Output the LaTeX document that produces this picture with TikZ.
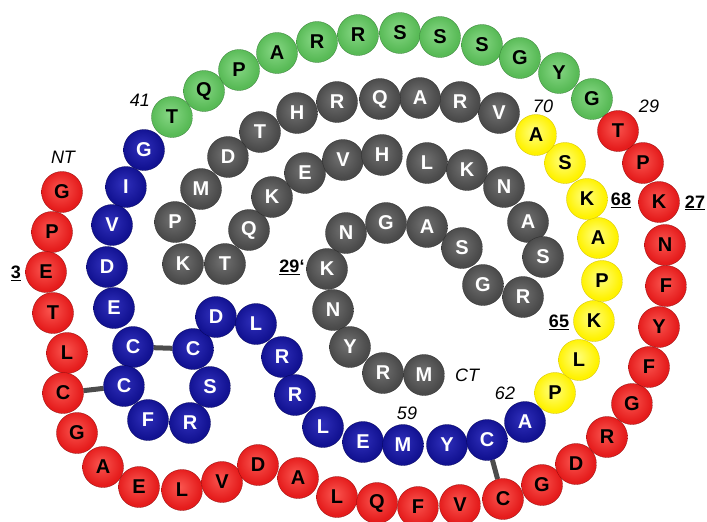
\documentclass[tikz,border=0pt]{standalone}
\usepackage{fontspec}
\setmainfont{Liberation Sans}
\definecolor{rIn}{HTML}{FA5650}\definecolor{rMid}{HTML}{E51C1C}\definecolor{rOut}{HTML}{A80C0C}
\definecolor{bIn}{HTML}{3030BC}\definecolor{bMid}{HTML}{121292}\definecolor{bOut}{HTML}{05055A}
\definecolor{gIn}{HTML}{88D886}\definecolor{gMid}{HTML}{58BA56}\definecolor{gOut}{HTML}{3A8A3A}
\definecolor{yIn}{HTML}{FFFF80}\definecolor{yMid}{HTML}{FFF200}\definecolor{yOut}{HTML}{D0BE00}
\definecolor{kIn}{HTML}{727272}\definecolor{kMid}{HTML}{4A4A4A}\definecolor{kOut}{HTML}{2A2A2A}
\pgfdeclareradialshading{redsh}{\pgfpoint{-3bp}{4bp}}{color(0bp)=(rIn); color(24bp)=(rMid); color(40bp)=(rMid); color(50bp)=(rOut)}
\pgfdeclareradialshading{bluesh}{\pgfpoint{-3bp}{4bp}}{color(0bp)=(bIn); color(24bp)=(bMid); color(40bp)=(bMid); color(50bp)=(bOut)}
\pgfdeclareradialshading{greensh}{\pgfpoint{-3bp}{4bp}}{color(0bp)=(gIn); color(24bp)=(gMid); color(40bp)=(gMid); color(50bp)=(gOut)}
\pgfdeclareradialshading{yellowsh}{\pgfpoint{-3bp}{4bp}}{color(0bp)=(yIn); color(24bp)=(yMid); color(40bp)=(yMid); color(50bp)=(yOut)}
\pgfdeclareradialshading{graysh}{\pgfpoint{-3bp}{4bp}}{color(0bp)=(kIn); color(24bp)=(kMid); color(40bp)=(kMid); color(50bp)=(kOut)}
\pgfdeclarelayer{bg}
\pgfsetlayers{bg,main}
\tikzset{
  bead/.style={circle, minimum size=41pt, inner sep=0pt, font=\fontsize{20}{20}\selectfont\bfseries},
  redbead/.style={bead, shading=redsh, draw=rOut!85!black, line width=0.3pt, text=black},
  bluebead/.style={bead, shading=bluesh, draw=bOut, line width=0.3pt, text=white},
  greenbead/.style={bead, shading=greensh, draw=gOut!90!black, line width=0.3pt, text=black},
  yellowbead/.style={bead, shading=yellowsh, draw=yOut, line width=0.3pt, text=black},
  graybead/.style={bead, shading=graysh, draw=kOut, line width=0.3pt, text=white},
  lbl/.style={font=\fontsize{18}{18}\selectfont\itshape, inner sep=0pt},
  num/.style={font=\fontsize{18}{18}\selectfont\bfseries, inner sep=0pt},
  bond/.style={line width=5pt, draw=black!70}
}
\begin{document}
\begin{tikzpicture}[x=1pt,y=-1pt]
\useasboundingbox (0,0) rectangle (707,522);
% gray chain
\foreach \nm/\xx/\yy/\lt in {k1/499/113/V,k2/460/102/R,k3/420/98/A,k4/380/99/Q,k5/337/102/R,k6/297/113/H,k7/260/132/T,k8/228/157/D,k9/201/189/M,k10/175/222/P,k11/183/264/K,k12/225/264/T,k13/249/230/Q,k14/272/197/K,k15/305/173/E,k16/343/160/V,k17/382/155/H,k18/427/163/L,k19/467/170/K,k20/504/187/N,k21/528/222/A,k22/543/257/S,k23/523/297/R,k24/483/285/G,k25/462/248/S,k26/427/227/A,k27/386/223/G,k28/346/233/N,k29/327/269/K,k30/333/310/N,k31/350/347/Y,k32/383/373/R,k33/424/375/M}
  \node[graybead] (\nm) at (\xx,\yy) {\lt};
% green chain
\foreach \nm/\xx/\yy/\lt in {g1/172/117/T,g2/204/91/Q,g3/239/70/P,g4/277/53/A,g5/317/42/R,g6/358/35/R,g7/400/33/S,g8/440/37/S,g9/482/45/S,g10/520/58/G,g11/559/73/Y,g12/592/99/G}
  \node[greenbead] (\nm) at (\xx,\yy) {\lt};
% yellow chain
\foreach \nm/\xx/\yy/\lt in {y1/555/393/P,y2/579/360/L,y3/594/321/K,y4/602/281/P,y5/598/238/A,y6/587/199/K,y7/565/163/S,y8/536/135/A}
  \node[yellowbead] (\nm) at (\xx,\yy) {\lt};
% red chain
\foreach \nm/\xx/\yy/\lt in {r1/62/192/G,r2/52/232/P,r3/46/272/E,r4/53/313/T,r5/67/353/L,r6/63/393/C,r7/77/433/G,r8/103/467/A,r9/139/487/E,r10/182/490/L,r11/222/482/V,r12/258/465/D,r13/298/478/A,r14/337/497/L,r15/377/503/Q,r16/418/507/F,r17/460/505/V,r18/503/499/C,r19/542/485/G,r20/576/464/D,r21/607/437/R,r22/632/404/G,r23/649/367/F,r24/659/327/Y,r25/666/286/F,r26/665/245/N,r27/659/202/K,r28/643/163/P,r29/618/131/T}
  \node[redbead] (\nm) at (\xx,\yy) {\lt};
% blue chain
\foreach \nm/\xx/\yy/\lt in {b1/144/150/G,b2/126/187/I,b3/112/225/V,b4/107/267/D,b5/114/308/E,b6/133/347/C,b7/124/386/C,b8/148/420/F,b9/190/423/R,b10/210/387/S,b11/193/349/C,b12/216/317/D,b13/256/324/L,b14/282/357/R,b15/295/395/R,b16/323/427/L,b17/363/442/E,b18/403/445/M,b19/447/445/Y,b20/487/440/C,b21/525/422/A}
  \node[bluebead] (\nm) at (\xx,\yy) {\lt};
% disulfide bonds
\begin{pgfonlayer}{bg}
  \draw[bond] (b6) -- (b11);
  \draw[bond] (b7) -- (r6);
  \draw[bond] (b20) -- (r18);
\end{pgfonlayer}
% labels
\node[lbl] (nt) at (63,157) {NT};
\node[lbl] (ct) at (467,375) {CT};
\node[lbl] (l41) at (140,100) {41};
\node[lbl] (l29) at (649,106) {29};
\node[lbl] (l70) at (543,106) {70};
\node[lbl] (l62) at (505,393) {62};
\node[lbl] (l59) at (407,413) {59};
\node[num] (l3) at (16,273) {\underline{3}};
\node[num] (l27) at (695,203) {\underline{27}};
\node[num] (l68) at (621,200) {\underline{68}};
\node[num] (l65) at (559,322) {\underline{65}};
\node[num] (l29p) at (292,267) {\underline{29}‘};
\end{tikzpicture}
\end{document}
